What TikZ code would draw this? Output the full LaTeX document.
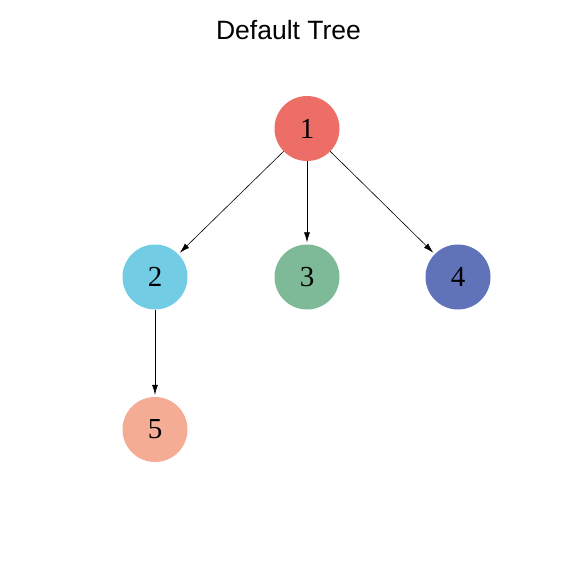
\documentclass[tikz,border=0pt]{standalone}
\usepackage{fontspec}
\setmainfont{Liberation Serif}
\newfontfamily\titlefont{Liberation Sans}
\usepackage{xcolor}
\usetikzlibrary{arrows.meta, positioning}
\definecolor{nodeRed}{HTML}{EC6E67}
\definecolor{nodeCyan}{HTML}{72CCE3}
\definecolor{nodeGreen}{HTML}{7FBA98}
\definecolor{nodeBlue}{HTML}{6073B9}
\definecolor{nodeSalmon}{HTML}{F4AC95}

\begin{document}
\begin{tikzpicture}[x=1pt, y=-1pt,
    vertex/.style={circle, minimum size=65pt, inner sep=0pt, font=\fontsize{29}{29}\selectfont},
    edge/.style={-{Latex[length=10pt, width=6pt]}, line width=0.6pt, shorten >=2pt}]
\useasboundingbox (0,0) rectangle (576,576);

% Title
\node[font=\titlefont\fontsize{26.5}{26.5}\selectfont] (title) at (288.5,30) {Default Tree};

% Vertices
\node[vertex, fill=nodeRed] (n1) at (307,128.5) {1};
\node[vertex, fill=nodeCyan] (n2) at (155,277) {2};
\node[vertex, fill=nodeGreen] (n3) at (307,277) {3};
\node[vertex, fill=nodeBlue] (n4) at (458,277) {4};
\node[vertex, fill=nodeSalmon] (n5) at (155,429.5) {5};

% Edges
\draw[edge] (n1) -- (n2);
\draw[edge] (n1) -- (n3);
\draw[edge] (n1) -- (n4);
\draw[edge] (n2) -- (n5);
\end{tikzpicture}
\end{document}
